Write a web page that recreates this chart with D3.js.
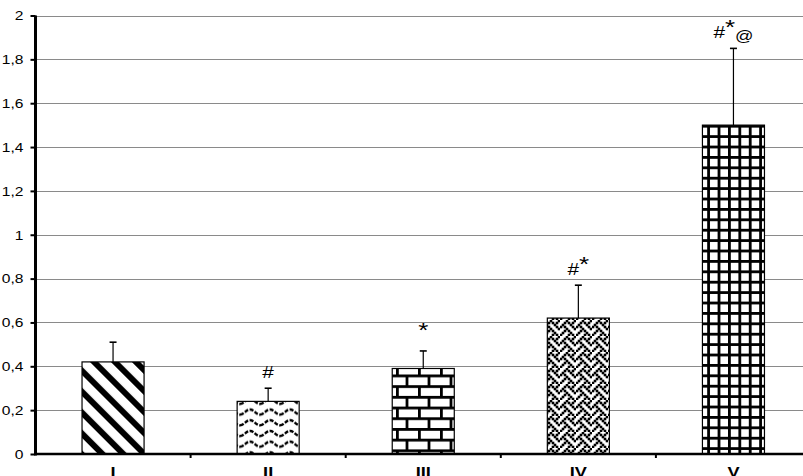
<!DOCTYPE html>
<html>
<head>
<meta charset="utf-8">
<script src="https://cdn.jsdelivr.net/npm/d3@7/dist/d3.min.js"></script>
<style>
  html, body { margin: 0; padding: 0; background: #fff; overflow: hidden; }
  svg { display: block; }
  text { font-family: "Liberation Sans", Arial, sans-serif; fill: #000; }
</style>
</head>
<body>
<svg id="chart" width="803" height="476"></svg>
<script>
// ---- data ----
const groups = ["I", "II", "III", "IV", "V"];
const means = [0.42, 0.24, 0.39, 0.62, 1.5];
const upperErr = [0.09, 0.06, 0.08, 0.15, 0.35];
const marks = ["", "#", "*", "#*", "#*@"];
const yTicks = [0, 0.2, 0.4, 0.6, 0.8, 1, 1.2, 1.4, 1.6, 1.8, 2];
const yTickLabels = ["0", "0,2", "0,4", "0,6", "0,8", "1", "1,2", "1,4", "1,6", "1,8", "2"];
const fills = ["url(#p-stripe)", "url(#p-wave)", "url(#p-brick)", "url(#p-weave)", "url(#p-grid)"];

// ---- layout ----
const SX = 1.3;            // horizontal stretch of the lettering
const axisX = 35.5, axisY = 454;
const svg = d3.select("#chart");

const x = d3.scaleBand().domain(groups).range([axisX, 811]).padding(0);
const y = d3.scaleLinear().domain([0, 2]).range([axisY, 15.5]);
const barW = x.bandwidth() * 0.4;
const barX = g => x(g) + (x.bandwidth() - barW) / 2;
const cx = g => x(g) + x.bandwidth() / 2;

// ---- fill patterns ----
const defs = svg.append("defs");
function pattern(id, w, h, extra) {
  const p = defs.append("pattern").attr("id", id)
    .attr("patternUnits", "userSpaceOnUse").attr("width", w).attr("height", h);
  if (extra) p.attr("patternTransform", extra);
  return p;
}
// I: wide diagonal stripes
{
  const p = pattern("p-stripe", 14.8, 14.8, "rotate(-45)");
  p.append("rect").attr("width", 14.8).attr("height", 14.8).attr("fill", "#fff");
  p.append("rect").attr("width", 6).attr("height", 14.8).attr("fill", "#000");
}
// II: waves
{
  const p = pattern("p-wave", 20, 10.7);
  p.append("rect").attr("width", 20).attr("height", 10.7).attr("fill", "#fff");
  p.append("path").attr("d", "M0,8 C4,8 6,3 10,3 C14,3 16,8 20,8")
    .attr("fill", "none").attr("stroke", "#000").attr("stroke-width", 2.4)
    .attr("stroke-dasharray", "4 1.5");
}
// III: bricks
{
  const w = 22, h = 21.4, m = 2.8;
  const p = pattern("p-brick", w, h);
  p.append("rect").attr("width", w).attr("height", h).attr("fill", "#000");
  p.append("rect").attr("x", m).attr("y", m).attr("width", w - m).attr("height", h / 2 - m).attr("fill", "#fff");
  p.append("rect").attr("x", 0).attr("y", h / 2 + m).attr("width", w / 2 - m / 2).attr("height", h / 2 - m).attr("fill", "#fff");
  p.append("rect").attr("x", w / 2 + m / 2).attr("y", h / 2 + m).attr("width", w / 2 - m / 2).attr("height", h / 2 - m).attr("fill", "#fff");
}
// IV: weave bitmap (dots drawn slightly oversized for a denser texture)
{
  const rows = [0x11, 0x2a, 0x44, 0xa2, 0x11, 0x28, 0x44, 0x8a];
  const s = 2;
  const p = pattern("p-weave", 8 * s, 8 * s);
  p.append("rect").attr("width", 8 * s).attr("height", 8 * s).attr("fill", "#fff");
  rows.forEach((r, j) => {
    for (let i = 0; i < 8; i++) {
      if (r & (0x80 >> i)) {
        p.append("rect").attr("x", i * s - 0.3).attr("y", j * s - 0.3)
          .attr("width", s + 0.6).attr("height", s + 0.6).attr("fill", "#000");
      }
    }
  });
}
// V: square grid
{
  const t = 10.4, lw = 2.8;
  const p = pattern("p-grid", t, t);
  p.append("rect").attr("width", t).attr("height", t).attr("fill", "#000");
  p.append("rect").attr("x", lw).attr("y", lw).attr("width", t - lw).attr("height", t - lw).attr("fill", "#fff");
}

// ---- gridlines ----
svg.append("g")
  .selectAll("line")
  .data(yTicks.filter(d => d > 0))
  .join("line")
  .attr("x1", axisX).attr("x2", 803)
  .attr("y1", d => Math.round(y(d)) + 0.5).attr("y2", d => Math.round(y(d)) + 0.5)
  .attr("stroke", "#8a8a8a").attr("stroke-width", 1.2);

// ---- bars ----
svg.append("g")
  .selectAll("rect")
  .data(groups)
  .join("rect")
  .attr("x", g => barX(g))
  .attr("y", (g, i) => y(means[i]))
  .attr("width", barW)
  .attr("height", (g, i) => axisY - y(means[i]))
  .attr("fill", (g, i) => fills[i])
  .attr("stroke", "#000").attr("stroke-width", 1.2);

// ---- error bars (upper only) ----
const eb = svg.append("g").attr("stroke", "#000").attr("stroke-width", 1.2);
groups.forEach((g, i) => {
  const top = y(means[i] + upperErr[i]);
  eb.append("line").attr("x1", cx(g)).attr("x2", cx(g))
    .attr("y1", y(means[i])).attr("y2", top);
  eb.append("line").attr("x1", cx(g) - 3.5).attr("x2", cx(g) + 3.5)
    .attr("y1", top).attr("y2", top).attr("stroke-width", 1.6);
});

// ---- significance marks ----
groups.forEach((g, i) => {
  if (!marks[i]) return;
  const top = y(means[i] + upperErr[i]);
  const t = svg.append("g")
    .attr("transform", `translate(${cx(g)},${top - 10}) scale(${SX},1)`)
    .append("text").attr("text-anchor", "middle");
  let shift = 0;
  for (const ch of marks[i]) {
    let target = 0, size = 16;
    if (ch === "*") { target = -4; size = 20; }
    if (ch === "@") { target = 3; size = 14; }
    t.append("tspan").attr("dy", target - shift).attr("font-size", size).text(ch);
    shift = target;
  }
});

// ---- y axis ----
const yAxis = svg.append("g")
  .attr("transform", `translate(${axisX},0)`)
  .call(d3.axisLeft(y).tickValues(yTicks)
    .tickFormat((d, i) => yTickLabels[i]).tickSize(5).tickPadding(0));
yAxis.select(".domain").attr("stroke", "#000").attr("stroke-width", 3)
  .attr("d", `M0,${y(2)}V${axisY + 1.5}`);
yAxis.selectAll(".tick line").attr("stroke", "#000").attr("stroke-width", 2);
yAxis.selectAll(".tick text")
  .attr("x", -12 / SX).attr("dy", "0.36em")
  .attr("font-size", 12)
  .attr("font-family", "'Liberation Sans', Arial, sans-serif")
  .attr("transform", `scale(${SX},1)`);

// ---- x axis ----
const xAxis = svg.append("g").attr("transform", `translate(0,${axisY})`);
xAxis.append("line").attr("x1", axisX).attr("x2", 803)
  .attr("stroke", "#000").attr("stroke-width", 2.6);
xAxis.selectAll(".sep")
  .data(groups.slice(1))
  .join("line").attr("class", "sep")
  .attr("x1", g => x(g)).attr("x2", g => x(g))
  .attr("y1", 0).attr("y2", 4)
  .attr("stroke", "#000").attr("stroke-width", 2);
xAxis.selectAll(".cat")
  .data(groups)
  .join("g").attr("class", "cat")
  .attr("transform", g => `translate(${cx(g)},23) scale(${SX},1)`)
  .append("text").attr("text-anchor", "middle")
  .attr("font-size", 14).attr("font-weight", "bold")
  .text(g => g);
</script>
</body>
</html>
